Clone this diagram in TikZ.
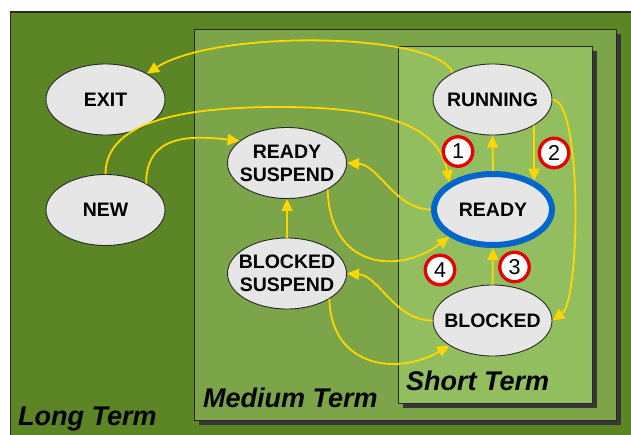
\documentclass[tikz,border=0pt]{standalone}
\usepackage{fontspec}
\setmainfont{Liberation Sans}
\usetikzlibrary{shapes.geometric,arrows.meta}

\definecolor{longterm}{RGB}{92,133,38}
\definecolor{mediumterm}{RGB}{123,165,72}
\definecolor{shortterm}{RGB}{146,190,95}
\definecolor{framedark}{RGB}{40,40,40}
\definecolor{frameshadow}{RGB}{55,55,55}
\definecolor{statefill}{RGB}{230,230,230}
\definecolor{flow}{RGB}{255,214,0}
\definecolor{readyblue}{RGB}{0,102,204}
\definecolor{badgered}{RGB}{230,0,0}

\begin{document}
\begin{tikzpicture}[x=1pt,y=-1pt,
  state/.style={ellipse, draw=framedark, line width=0.9pt, fill=statefill,
    minimum width=119pt, minimum height=71pt, inner sep=0pt},
  statetext/.style={font=\fontsize{19.5}{23}\selectfont\bfseries, align=center, inner sep=0pt},
  flowarrow/.style={draw=flow, line width=1.8pt, -{Triangle[length=12pt,width=11pt]}},
  badge/.style={circle, draw=badgered, line width=3.3pt, fill=white,
    minimum size=29.5pt, inner sep=0pt, font=\fontsize{21.5}{21.5}\selectfont},
  termlabel/.style={font=\fontsize{27}{27}\selectfont\bfseries\itshape,
    anchor=base west, inner sep=0pt},
]
\useasboundingbox (0,0) rectangle (631,435);
\fill[white] (0,0) rectangle (631,435);

% scheduling levels
\fill[longterm] (10.5,12) rectangle (645,445);
\draw[framedark, line width=1.5pt] (10.5,445) -- (10.5,12) -- (645,12);

\fill[frameshadow] (198.5,34.5) rectangle (620.5,424.5);
\fill[mediumterm] (194,30) rectangle (616,420);
\draw[framedark, line width=1pt] (194,30) rectangle (616,420);

\fill[frameshadow] (402.5,51.5) rectangle (596.5,407.5);
\fill[shortterm] (398,47) rectangle (592,403);
\draw[framedark, line width=1pt] (398,47) rectangle (592,403);

\node[termlabel] (longlbl) at (18,425) {Long Term};
\node[termlabel] (mediumlbl) at (203,407) {Medium Term};
\node[termlabel] (shortlbl) at (406,390) {Short Term};

% process states
\node[state, label={[statetext]center:EXIT}] (exit) at (105.5,99.5) {};
\node[state, label={[statetext]center:NEW}] (new) at (105.5,210) {};
\node[state, label={[statetext]center:{READY\\SUSPEND}}] (rs) at (287,163) {};
\node[state, label={[statetext]center:{BLOCKED\\SUSPEND}}] (bs) at (287,273.5) {};
\node[state, label={[statetext]center:RUNNING}] (running) at (492.5,99.5) {};
\node[state, draw=readyblue, line width=6pt, minimum width=118pt, minimum height=71pt,
  label={[statetext]center:READY}] (ready) at (493,209.5) {};
\node[state, label={[statetext]center:BLOCKED}] (blocked) at (492.5,320.5) {};

% transitions
\coordinate (newarc) at (280,107);
\draw[flowarrow] (running.146) .. controls +(-15,-40) and +(70,-45) .. (exit.32);
\draw[flowarrow] (new.north) .. controls +(0,-55) and +(-90,0) .. (newarc)
  .. controls +(100,0) and +(-11,-58) .. (ready.148);
\draw[flowarrow] (new.33) .. controls +(0,-48) and +(-52,-6) .. (rs.155);
\draw[flowarrow] (ready.west) .. controls +(-36,0) and +(32,2) .. (rs.east);
\draw[flowarrow] (rs.-33) .. controls +(2,80) and +(-50,38) .. (ready.-148);
\draw[flowarrow] (bs.north) -- (rs.south);
\draw[flowarrow] (ready.north) -- (running.south);
\draw[flowarrow] (running.-32) -- (ready.35);
\draw[flowarrow] (running.east) .. controls +(30,0) and +(28,-20) .. (blocked.east);
\draw[flowarrow] (blocked.north) -- (ready.south);
\draw[flowarrow] (blocked.west) .. controls +(-38,0) and +(32,2) .. (bs.east);
\draw[flowarrow] (bs.-31) .. controls +(2,70) and +(-50,30) .. (blocked.-150);

% numbered transitions
\node[badge] (b1) at (458,151.5) {1};
\node[badge] (b2) at (554,153) {2};
\node[badge] (b3) at (514.5,267) {3};
\node[badge] (b4) at (440,270) {4};
\end{tikzpicture}
\end{document}
